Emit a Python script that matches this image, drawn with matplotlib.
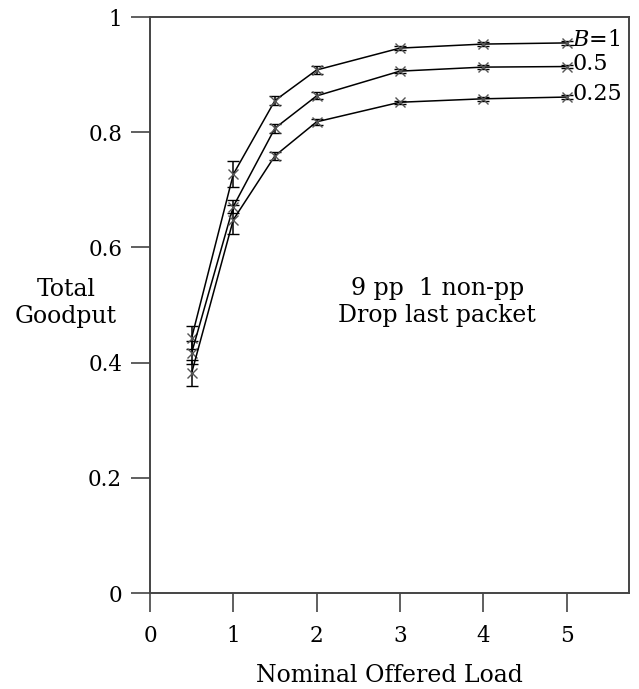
import matplotlib.pyplot as plt

# данные
load = [0.5, 1, 1.5, 2, 3, 4, 5]
gp_b1 = [0.443, 0.727, 0.855, 0.908, 0.946, 0.953, 0.955]
gp_b05 = [0.417, 0.671, 0.807, 0.863, 0.906, 0.913, 0.914]
gp_b025 = [0.382, 0.648, 0.759, 0.818, 0.852, 0.858, 0.861]
err_b1 = [0.020, 0.023, 0.007, 0.007, 0.003, 0.003, 0.003]
err_b05 = [0.020, 0.012, 0.008, 0.006, 0.003, 0.003, 0.003]
err_b025 = [0.022, 0.025, 0.007, 0.005, 0.003, 0.003, 0.003]
labels = ['$B$=1', '0.5', '0.25']

plt.rcParams['font.family'] = ['DejaVu Serif']
plt.rcParams['mathtext.fontset'] = 'dejavuserif'

fig = plt.figure(figsize=(6.39, 6.89), dpi=100)
ax = fig.add_axes([150 / 639, 1 - 593 / 689, 479 / 639, 576 / 689])

for y, e, lab in zip([gp_b1, gp_b05, gp_b025], [err_b1, err_b05, err_b025], labels):
    ax.errorbar(load, y, yerr=e, color='black', lw=1.1, marker='x', ms=7,
                mec='#555555', mew=1.0, capsize=4, elinewidth=1.1, capthick=1.1)
    ax.text(5.07, y[-1] + 0.005, lab, fontsize=16, va='center', ha='left')

ax.set_xlim(0, 5.75)
ax.set_ylim(0, 1)
ax.set_xticks([0, 1, 2, 3, 4, 5])
ax.set_yticks([0, 0.2, 0.4, 0.6, 0.8, 1])
ax.set_yticklabels(['0', '0.2', '0.4', '0.6', '0.8', '1'])
ax.tick_params(direction='out', length=14, width=1.2, color='#444444',
               labelsize=15.5, pad=6)
ax.tick_params(axis='x', pad=9)
for s in ax.spines.values():
    s.set_color('#444444')
    s.set_linewidth(1.4)

ax.set_xlabel('Nominal Offered Load', fontsize=17, labelpad=12)
fig.text(66 / 639, 1 - 303 / 689, 'Total\nGoodput', fontsize=17,
         ha='center', va='center', linespacing=1.2)
ax.text(3.45, 0.505, '9 pp  1 non-pp\nDrop last packet', fontsize=17,
        ha='center', va='center', linespacing=1.2)

plt.savefig('out.png', dpi=100)
